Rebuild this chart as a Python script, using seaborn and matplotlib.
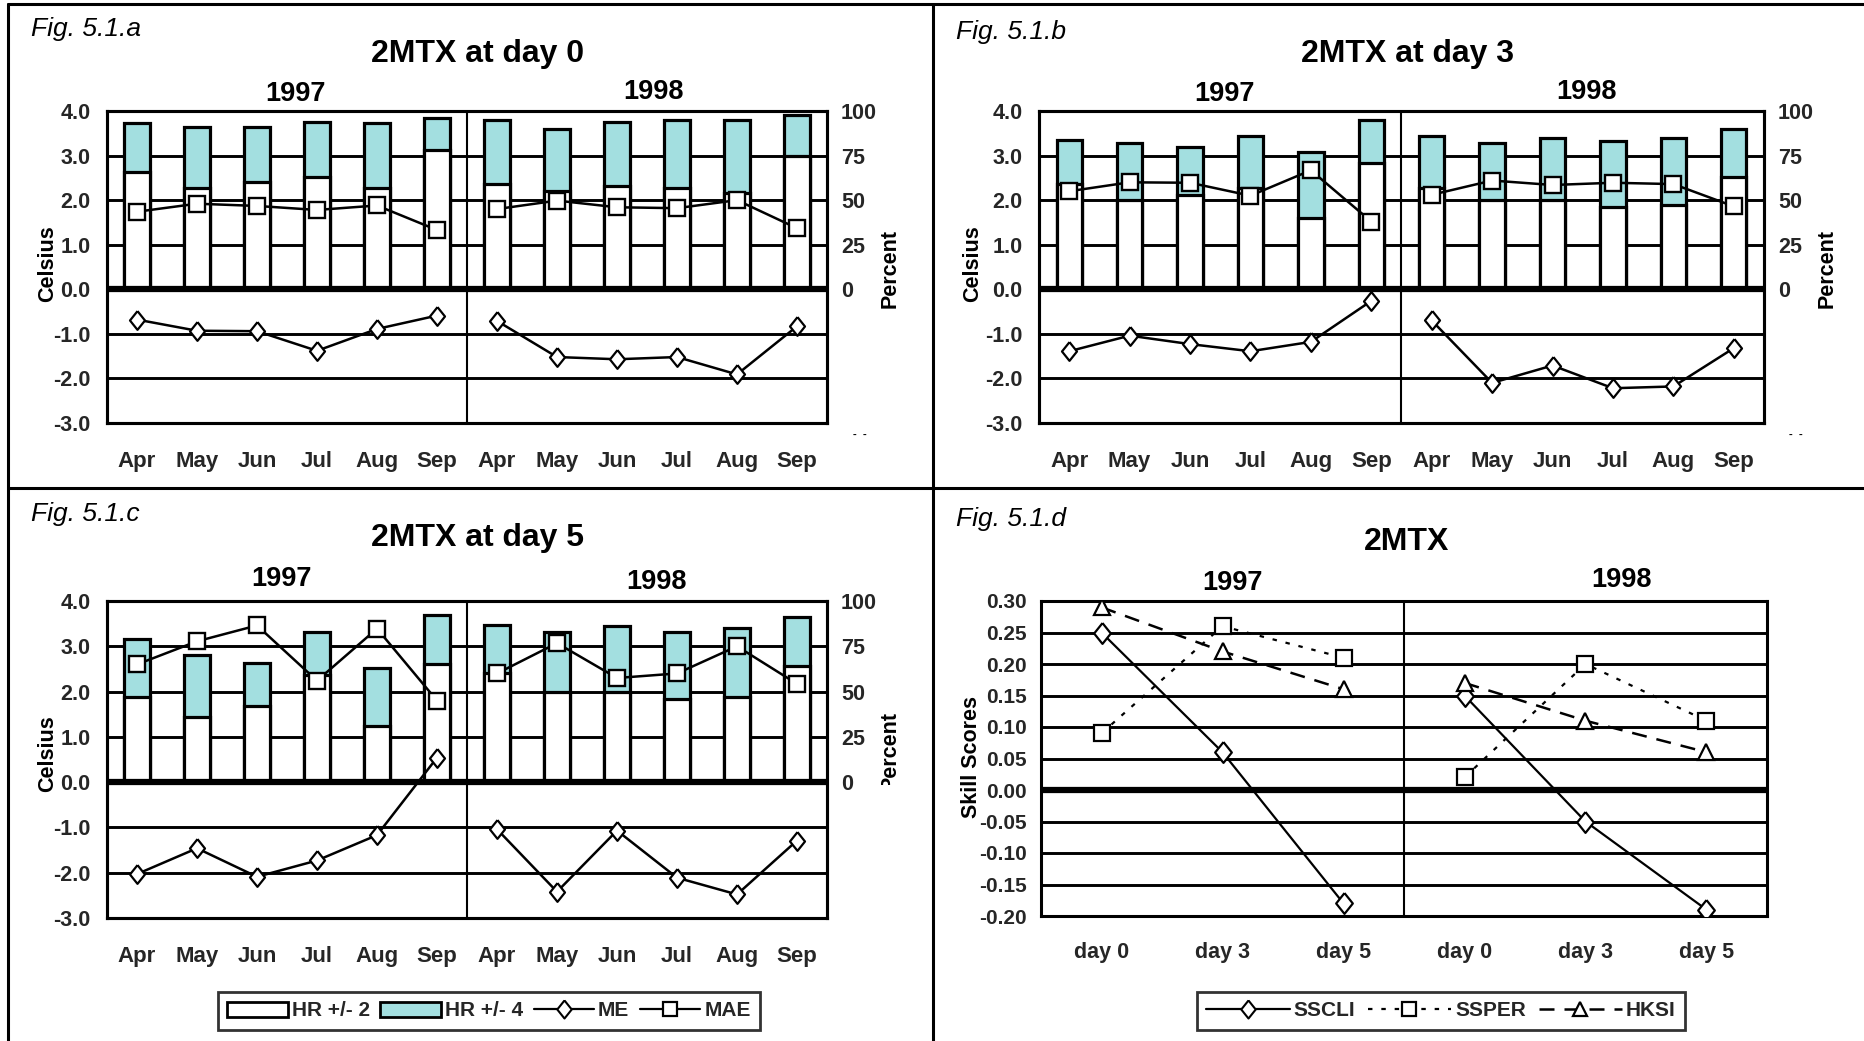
import numpy as np
import pandas as pd
import matplotlib
matplotlib.use("Agg")
import matplotlib.pyplot as plt
import seaborn as sns
from matplotlib.lines import Line2D
from matplotlib.patches import Patch
from matplotlib.transforms import Bbox
from matplotlib.ticker import FormatStrFormatter, FuncFormatter

# ---------------- data ----------------
months = ["Apr", "May", "Jun", "Jul", "Aug", "Sep"]
years = ["1997", "1998"]
leads = ["day 0", "day 3", "day 5"]

# hit rates in percent (12 values: Apr-Sep 1997, Apr-Sep 1998)
day0_hr2 = [66, 57, 60, 63, 57, 78, 59, 55, 58, 57, 54, 75]
day0_hr4 = [93, 91, 91, 94, 93, 96, 95, 90, 94, 95, 95, 98]
day0_me = [-0.68, -0.93, -0.94, -1.38, -0.89, -0.59, -0.71, -1.52, -1.57, -1.52, -1.91, -0.83]
day0_mae = [1.74, 1.92, 1.87, 1.78, 1.88, 1.33, 1.80, 1.99, 1.84, 1.82, 2.00, 1.37]

day3_hr2 = [59, 50, 53, 57, 40, 71, 57, 50, 50, 46, 47, 63]
day3_hr4 = [84, 82, 80, 86, 77, 95, 86, 82, 85, 83, 85, 90]
day3_me = [-1.39, -1.04, -1.23, -1.39, -1.18, -0.26, -0.70, -2.10, -1.71, -2.22, -2.18, -1.32]
day3_mae = [2.20, 2.40, 2.39, 2.10, 2.67, 1.52, 2.12, 2.44, 2.34, 2.39, 2.36, 1.86]

day5_hr2 = [47, 36, 42, 59, 31, 65, 60, 50, 50, 46, 47, 64]
day5_hr4 = [79, 70, 66, 83, 63, 92, 87, 83, 86, 83, 85, 91]
day5_me = [-2.03, -1.46, -2.09, -1.73, -1.17, 0.54, -1.04, -2.42, -1.07, -2.11, -2.48, -1.29]
day5_mae = [2.60, 3.11, 3.46, 2.24, 3.39, 1.80, 2.40, 3.07, 2.30, 2.40, 3.00, 2.17]

sscli = {"1997": [0.25, 0.06, -0.18], "1998": [0.15, -0.05, -0.19]}
ssper = {"1997": [0.09, 0.26, 0.21], "1998": [0.02, 0.20, 0.11]}
hksi = {"1997": [0.29, 0.22, 0.16], "1998": [0.17, 0.11, 0.06]}

TEAL = "#A3DFE0"
DIAMOND = [(0, 1), (0.8, 0), (0, -1), (-0.8, 0), (0, 1)]

# ---------------- setup ----------------
sns.set_theme(style="white")
plt.rcParams['font.family'] = ['Liberation Sans', 'DejaVu Sans']
plt.rcParams['font.weight'] = 'bold'
plt.rcParams['axes.unicode_minus'] = False

W, H = 1865, 1041
fig = plt.figure(figsize=(W / 100, H / 100), dpi=100)
fig.patch.set_facecolor("white")


def rect(l, t, r, b):
    return [l / W, 1 - b / H, (r - l) / W, (b - t) / H]


def ftext(x, y, s, **kw):
    kw.setdefault("ha", "center")
    kw.setdefault("va", "center")
    kw.setdefault("color", "black")
    return fig.text(x / W, 1 - y / H, s, **kw)


def style_spines(ax, lw=2.2):
    for sp in ax.spines.values():
        sp.set_color("black")
        sp.set_linewidth(lw)
        sp.set_visible(True)


def bar_panel(pos, hr2, hr4, me, mae):
    ax = fig.add_axes(pos)
    ax2 = ax.twinx()
    ax.set_zorder(ax2.get_zorder() + 1)
    ax.patch.set_visible(False)

    df = pd.DataFrame({"slot": list(range(12)), "hr2": hr2, "hr4": hr4})
    sns.barplot(data=df, x="slot", y="hr4", ax=ax2, color=TEAL, width=0.42,
                edgecolor="black", linewidth=2.3, saturation=1, errorbar=None, zorder=2)
    sns.barplot(data=df, x="slot", y="hr2", ax=ax2, color="white", width=0.42,
                edgecolor="black", linewidth=2.3, saturation=1, errorbar=None, zorder=2)

    for k in range(2):
        xs = np.arange(6) + 6 * k
        sns.lineplot(x=xs, y=mae[6 * k:6 * k + 6], ax=ax, color="black", lw=1.8,
                     marker="s", markersize=11, markerfacecolor="white",
                     markeredgecolor="black", markeredgewidth=1.7, zorder=5)
        sns.lineplot(x=xs, y=me[6 * k:6 * k + 6], ax=ax, color="black", lw=1.8,
                     marker=DIAMOND, markersize=13.5, markerfacecolor="white",
                     markeredgecolor="black", markeredgewidth=1.6, zorder=5)

    ax2.set_ylim(-75, 100)
    ax2.set_yticks(range(-75, 101, 25))
    ax2.yaxis.set_major_formatter(FuncFormatter(lambda v, p: "%d" % v if v >= 0 else ""))
    ax2.grid(axis="y", color="black", lw=2.1)
    ax2.grid(axis="x", visible=False)
    ax2.set_axisbelow(True)
    ax2.axhline(0, color="black", lw=4.5, zorder=3)
    ax2.axvline(5.5, color="black", lw=1.5, zorder=1)
    ax2.set_ylabel("")
    ax2.set_xlabel("")

    ax.set_xlim(-0.5, 11.5)
    ax.set_ylim(-3, 4)
    ax.set_yticks(range(-3, 5))
    ax.yaxis.set_major_formatter(FormatStrFormatter("%.1f"))
    ax.set_xticks(range(12))
    ax.set_xticklabels(months * 2)
    ax.grid(False)
    ax.set_xlabel("")
    ax.set_ylabel("")

    ax.tick_params(axis="y", length=0, labelsize=15.5, pad=12)
    ax.tick_params(axis="x", length=0, labelsize=16, pad=20)
    ax2.tick_params(axis="y", length=0, labelsize=15.5, pad=10)
    style_spines(ax)
    style_spines(ax2)
    return ax, ax2


# ---------------- panels a, b, c ----------------
bar_panel(rect(107, 111, 827, 423), day0_hr2, day0_hr4, day0_me, day0_mae)
bar_panel(rect(1039, 111, 1764, 423), day3_hr2, day3_hr4, day3_me, day3_mae)
bar_panel(rect(107, 601, 827, 918), day5_hr2, day5_hr4, day5_me, day5_mae)

# ---------------- panel d ----------------
axd = fig.add_axes(rect(1041, 601, 1767, 916))
for k, yr in enumerate(years):
    xs = np.arange(3) + 3 * k
    sns.lineplot(x=xs, y=sscli[yr], ax=axd, color="black", lw=1.6, linestyle="-",
                 marker=DIAMOND, markersize=15, markerfacecolor="white",
                 markeredgecolor="black", markeredgewidth=1.6, zorder=5)
    sns.lineplot(x=xs, y=ssper[yr], ax=axd, color="black", lw=1.6, linestyle=(0, (2, 4)),
                 marker="s", markersize=12, markerfacecolor="white",
                 markeredgecolor="black", markeredgewidth=1.6, zorder=5)
    sns.lineplot(x=xs, y=hksi[yr], ax=axd, color="black", lw=1.8, linestyle=(0, (6, 4)),
                 marker="^", markersize=12, markerfacecolor="white",
                 markeredgecolor="black", markeredgewidth=1.6, zorder=5)
axd.set_xlim(-0.5, 5.5)
axd.set_ylim(-0.2, 0.3)
axd.set_yticks(np.round(np.arange(-0.2, 0.301, 0.05), 2))
axd.yaxis.set_major_formatter(FuncFormatter(lambda v, p: "%.2f" % (0.0 if abs(v) < 1e-9 else v)))
axd.set_xticks(range(6))
axd.set_xticklabels(leads * 2)
axd.grid(axis="y", color="black", lw=2.1)
axd.grid(axis="x", visible=False)
axd.set_axisbelow(True)
axd.axhline(0, color="black", lw=4.5, zorder=3)
axd.axvline(2.5, color="black", lw=1.5, zorder=1)
axd.set_xlabel("")
axd.set_ylabel("")
axd.tick_params(axis="y", length=0, labelsize=15, pad=10)
axd.tick_params(axis="x", length=0, labelsize=15.5, pad=19)
style_spines(axd)

# ---------------- texts ----------------
fig_kw = dict(fontsize=19, style="italic", weight="normal", ha="left")
ftext(31, 29, "Fig. 5.1.a", **fig_kw)
ftext(956, 32, "Fig. 5.1.b", **fig_kw)
ftext(31, 514, "Fig. 5.1.c", **fig_kw)
ftext(956, 519, "Fig. 5.1.d", **fig_kw)

tkw = dict(fontsize=23, weight="bold")
ftext(478, 54, "2MTX at day 0", **tkw)
ftext(1408, 54, "2MTX at day 3", **tkw)
ftext(478, 538, "2MTX at day 5", **tkw)
ftext(1407, 542, "2MTX", **tkw)

ykw = dict(fontsize=19.5, weight="bold")
ftext(296, 94, "1997", **ykw)
ftext(654, 92, "1998", **ykw)
ftext(1225, 94, "1997", **ykw)
ftext(1587, 92, "1998", **ykw)
ftext(282, 579, "1997", **ykw)
ftext(657, 582, "1998", **ykw)
ftext(1233, 583, "1997", **ykw)
ftext(1622, 580, "1998", **ykw)

lkw = dict(fontsize=15.5, weight="bold", rotation=90)
ftext(48, 264, "Celsius", **lkw)
ftext(973, 264, "Celsius", **lkw)
ftext(48, 754, "Celsius", **lkw)
ftext(890, 268, "Percent", **lkw)
ftext(1827, 268, "Percent", **lkw)
pc = ftext(890, 751, "Percent", **lkw)
pc.set_clip_box(Bbox.from_extents(0, H - 785, W, H))
pc.set_clip_on(True)
ftext(972, 757, "Skill Scores", **lkw)

# small cut-off label remnants at the right axis bottom
ftext(860, 434, "-  -", fontsize=8, weight="bold")
ftext(1796, 434, "-  -", fontsize=8, weight="bold")

# ---------------- legends ----------------
h_c = [Patch(facecolor="white", edgecolor="black", lw=2),
       Patch(facecolor=TEAL, edgecolor="black", lw=2),
       Line2D([], [], color="black", lw=1.6, marker=DIAMOND, markersize=13,
              markerfacecolor="white", markeredgecolor="black", markeredgewidth=1.5),
       Line2D([], [], color="black", lw=1.6, marker="s", markersize=10.5,
              markerfacecolor="white", markeredgecolor="black", markeredgewidth=1.6)]
leg_c = fig.legend(h_c, ["HR +/- 2", "HR +/- 4", "ME", "MAE"], loc="center",
                   bbox_to_anchor=(489 / W, 1 - 1011 / H), ncol=4, frameon=True,
                   fancybox=False, edgecolor="black", handlelength=2.9,
                   handletextpad=0.2, columnspacing=0.5, borderpad=0.45,
                   prop={"weight": "bold", "size": 15})
leg_c.get_frame().set_linewidth(2)

h_d = [Line2D([], [], color="black", lw=1.6, marker=DIAMOND, markersize=13,
              markerfacecolor="white", markeredgecolor="black", markeredgewidth=1.5),
       Line2D([], [], color="black", lw=1.6, linestyle=(0, (2, 4)), marker="s", markersize=10.5,
              markerfacecolor="white", markeredgecolor="black", markeredgewidth=1.6),
       Line2D([], [], color="black", lw=1.8, linestyle=(0, (6, 4)), marker="^", markersize=10.5,
              markerfacecolor="white", markeredgecolor="black", markeredgewidth=1.6)]
leg_d = fig.legend(h_d, ["SSCLI", "SSPER", "HKSI"], loc="center",
                   bbox_to_anchor=(1441 / W, 1 - 1011 / H), ncol=3, frameon=True,
                   fancybox=False, edgecolor="black", handlelength=4.0,
                   handletextpad=0.2, columnspacing=0.6, borderpad=0.45,
                   prop={"weight": "bold", "size": 15})
leg_d.get_frame().set_linewidth(2)

# ---------------- panel borders ----------------
def fline(x0, y0, x1, y1, lw=2.2):
    fig.add_artist(Line2D([x0 / W, x1 / W], [1 - y0 / H, 1 - y1 / H],
                          transform=fig.transFigure, color="black", lw=lw))

fline(8, 4, W, 4)
fline(8, 4, 8, H)
fline(933, 4, 933, H)
fline(8, 488, W, 488)

fig.savefig("out.png", dpi=100, facecolor="white")
